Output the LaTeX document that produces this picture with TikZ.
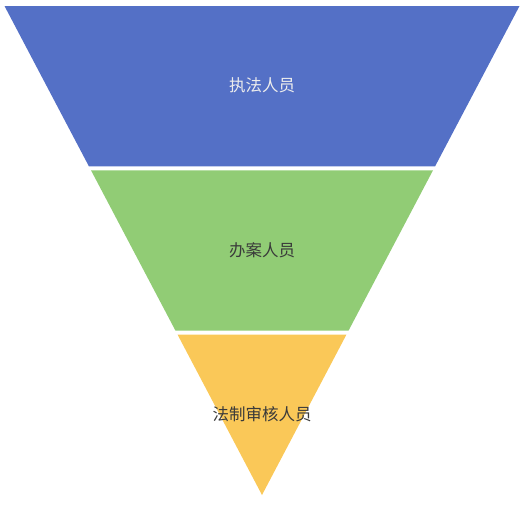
\documentclass[tikz,border=0pt]{standalone}
\usepackage{fontspec}
\newfontfamily\cjk{Noto Sans CJK SC}
\definecolor{funnelBlue}{HTML}{5470C6}
\definecolor{funnelGreen}{HTML}{91CC75}
\definecolor{funnelYellow}{HTML}{FAC858}
\definecolor{labelDark}{HTML}{3A3A3A}
\tikzset{
  band/.style={draw=none},
  bandlabel/.style={font=\cjk\fontsize{16.5}{18}\selectfont, inner sep=0pt}
}
\begin{document}
\begin{tikzpicture}[x=1pt, y=-1pt]
			\useasboundingbox (0,0) rectangle (525,509);
			
			% Top layer
			\fill[band, funnelBlue] (4.5,6) -- (519.5,6) -- (435.1,166.3) -- (88.9,166.3) -- cycle;
			\coordinate (c1) at (262,85.5);
			
			% Middle layer
			\fill[band, funnelGreen] (91,170.3) -- (433,170.3) -- (348.5,330.7) -- (175.5,330.7) -- cycle;
			\coordinate (c2) at (262,250);
			
			% Bottom layer
			\fill[band, funnelYellow] (177.6,334.7) -- (346.4,334.7) -- (262,495) -- cycle;
			\coordinate (c3) at (262,414.5);
			
			% Labels
			\node[bandlabel, text=white!93!black] (lab1) at (c1) {执法人员};
			\node[bandlabel, text=labelDark] (lab2) at (c2) {办案人员};
			\node[bandlabel, text=labelDark] (lab3) at (c3) {法制审核人员};
\end{tikzpicture}
\end{document}
